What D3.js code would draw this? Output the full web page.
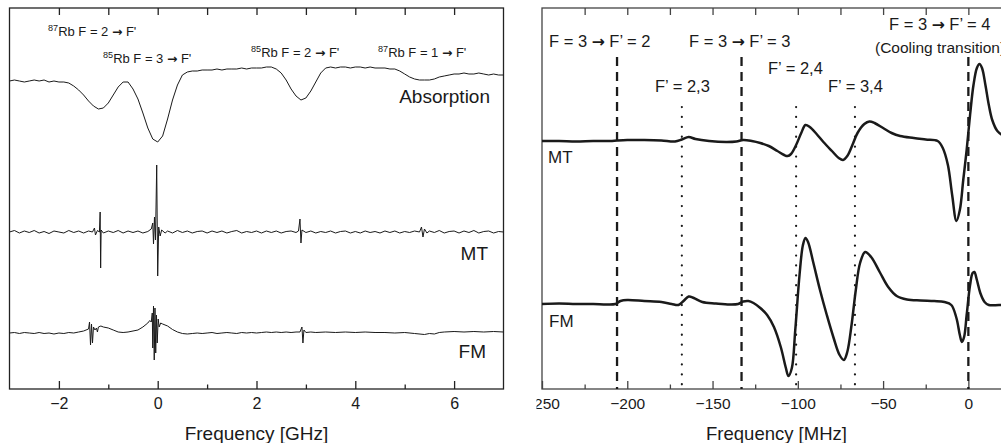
<!DOCTYPE html>
<html>
<head>
<meta charset="utf-8">
<script src="https://cdn.jsdelivr.net/npm/d3@7"></script>
<style>
body { margin: 0; background: #fff; }
svg { display: block; font-family: "Liberation Sans", Arial, sans-serif; }
</style>
</head>
<body>
<div class="chartDiv"></div>
<script>
"use strict"

//
/* Data: wide scan (GHz), traces as [frequency, signal relative to trace baseline] */
//
var wideMajorTicks = [-2, 0, 2, 4, 6];
var wideMinorTicks = [-1, 1, 3, 5];
var wideTopTicks = [-2, -1, 0, 1, 2, 3, 4, 5, 6];

var wideOffsets = { absorption: 308, mt: 157, fm: 56 };

var absorptionWide = [
    [-3.0,0],[-2.9,1],[-2.8,0],[-2.7,-1],[-2.6,0],[-2.5,1],[-2.4,0],[-2.3,1],[-2.2,-1],[-2.1,0],
    [-2.0,-1],[-1.9,-1],[-1.8,-2],[-1.7,-5],[-1.6,-9],[-1.5,-14],[-1.4,-20],[-1.3,-25],[-1.2,-28],[-1.1,-27],
    [-1.0,-22],[-0.9,-14],[-0.8,-6],[-0.7,-1],[-0.6,-1],[-0.5,-8],[-0.4,-18],[-0.3,-32],[-0.2,-47],[-0.1,-58],
    [0.0,-61],[0.1,-55],[0.2,-38],[0.3,-19],[0.4,-4],[0.5,6],[0.6,9],[0.7,10],[0.8,10],[0.9,11],
    [1.0,11],[1.1,11],[1.2,12],[1.3,11],[1.4,12],[1.5,12],[1.6,12],[1.7,13],[1.8,12],[1.9,13],
    [2.0,13],[2.1,13],[2.2,14],[2.3,14],[2.4,12],[2.5,8],[2.6,1],[2.7,-8],[2.8,-15],[2.9,-19],
    [3.0,-17],[3.1,-10],[3.2,-1],[3.3,8],[3.4,13],[3.5,14],[3.6,13],[3.7,14],[3.8,14],[3.9,13],
    [4.0,14],[4.1,14],[4.2,13],[4.3,14],[4.4,13],[4.5,13],[4.6,13],[4.7,12],[4.8,12],[4.9,10],
    [5.0,7],[5.1,4],[5.2,2],[5.3,1],[5.4,1],[5.5,1],[5.6,2],[5.7,4],[5.8,5],[5.9,6],
    [6.0,7],[6.1,7],[6.2,8],[6.3,7],[6.4,7],[6.5,8],[6.6,7],[6.7,6],[6.8,7],[6.9,6],[7.0,6]
];

var mtWide = [
    [-3.0,0],[-2.9,1.5],[-2.8,-1],[-2.7,1],[-2.6,-0.5],[-2.5,1.5],[-2.4,-1],[-2.3,0.5],[-2.2,-1.5],[-2.1,1],
    [-2.0,0],[-1.9,-1],[-1.8,1.5],[-1.7,-0.5],[-1.6,1],[-1.5,-1],[-1.4,1],[-1.32,0],[-1.28,4],[-1.26,-3],
    [-1.22,1.5],[-1.18,0],[-1.165,20],[-1.155,-36],[-1.145,2],[-1.1,-1],[-1.0,1],[-0.9,-0.5],[-0.8,1.5],[-0.7,-1],
    [-0.6,1],[-0.5,-0.5],[-0.4,1],[-0.3,-1],[-0.2,0.5],[-0.13,3],[-0.1,9],[-0.085,-12],[-0.065,15],[-0.045,-8],
    [-0.02,67],[0.0,-44],[0.02,5],[0.05,-4],[0.08,2],[0.15,-1],[0.2,1],[0.3,-1],[0.4,1.5],[0.5,-0.5],
    [0.6,1],[0.7,-1],[0.8,0.5],[0.9,1],[1.0,-1],[1.1,1],[1.2,-0.5],[1.3,1],[1.4,-1],[1.5,0.5],
    [1.6,1.5],[1.7,-1],[1.8,0.5],[1.9,-0.5],[2.0,1],[2.1,-1],[2.2,1],[2.3,-0.5],[2.4,1],[2.5,-1],
    [2.6,0.5],[2.7,1],[2.8,-0.5],[2.85,1],[2.88,13],[2.9,-11],[2.92,2],[3.0,-0.5],[3.1,1],[3.2,-1],
    [3.3,0.5],[3.4,-0.5],[3.5,1],[3.6,-1],[3.7,0.5],[3.8,1],[3.9,-1],[4.0,0.5],[4.1,-1],[4.2,1],
    [4.3,-0.5],[4.4,0.5],[4.5,-1],[4.6,1],[4.7,-0.5],[4.8,1],[4.9,-1],[5.0,0.5],[5.1,-0.5],[5.2,1],
    [5.3,0],[5.34,5],[5.37,-5],[5.4,3],[5.45,-1],[5.5,1],[5.6,-0.5],[5.7,1.5],[5.8,-1],[5.9,0.5],
    [6.0,1],[6.1,-1],[6.2,1],[6.3,-0.5],[6.4,1.5],[6.5,-1],[6.6,0.5],[6.7,1],[6.8,-1],[6.9,0.5],[7.0,0]
];

var fmWide = [
    [-3.0,0],[-2.9,0.5],[-2.8,-0.5],[-2.7,0.5],[-2.6,0],[-2.5,-0.5],[-2.4,0.5],[-2.3,-0.5],[-2.2,0],[-2.1,-1],
    [-2.0,0],[-1.9,-0.5],[-1.8,0.5],[-1.7,0],[-1.6,1],[-1.5,2],[-1.45,3],[-1.4,4],[-1.38,11],[-1.36,-12],
    [-1.34,9],[-1.32,-10],[-1.3,6],[-1.27,3],[-1.24,5],[-1.22,1],[-1.2,6],[-1.15,7],[-1.1,6],[-1.0,5],
    [-0.9,3],[-0.8,1],[-0.7,0.5],[-0.6,1],[-0.5,2],[-0.4,3],[-0.3,6],[-0.2,10],[-0.16,12.5],[-0.13,11],
    [-0.11,20],[-0.1,-15],[-0.085,27],[-0.07,-27],[-0.055,25],[-0.04,-20],[-0.025,18],[-0.01,-10],[0.01,14],[0.03,6],
    [0.06,10],[0.1,9],[0.2,7],[0.3,3.5],[0.4,1],[0.5,-0.5],[0.6,-1],[0.7,-0.5],[0.8,0],[0.9,-0.5],
    [1.0,0],[1.1,0.5],[1.2,-0.5],[1.3,0],[1.4,0.5],[1.5,0],[1.6,-0.5],[1.7,0.5],[1.8,0],[1.9,0.5],
    [2.0,0],[2.1,0.5],[2.2,1],[2.3,0.5],[2.4,1],[2.5,0.5],[2.6,1],[2.7,0.5],[2.8,1],[2.88,1],
    [2.92,6],[2.94,-10],[2.96,3],[3.0,0.5],[3.1,1],[3.2,0.5],[3.4,1],[3.6,0.5],[3.8,1],[4.0,0.5],
    [4.2,1],[4.4,0.5],[4.6,0.5],[4.8,0],[5.0,0.5],[5.2,-0.5],[5.4,-1.5],[5.5,-0.5],[5.6,-1],[5.7,0.5],
    [5.8,1],[6.0,1.5],[6.2,1],[6.4,1.5],[6.6,1],[6.8,1.5],[7.0,1]
];

//
/* Data: zoomed scan (MHz) */
//
var zoomMajorTicks = [-250, -200, -150, -100, -50, 0];
var zoomMinorTicks = [-225, -175, -125, -75, -25, 25];
var zoomTopTicks = [-225, -200, -175, -150, -125, -100, -75, -50, -25, 0, 25];

var zoomOffsets = { mt: 248, fm: 85 };

var dashedTransitions = [-206, -133, 0];
var dottedCrossovers = [-168, -101, -66.5];

var mtZoom = [
    [-250,0],[-240,0],[-230,-0.5],[-220,0],[-210,0],[-206,0.5],[-200,1],[-190,1],[-180,0.5],[-172,-0.5],
    [-168,1.5],[-164,4],[-160,2],[-152,0],[-142,-1],[-136,-0.5],[-132,1],[-127,0],[-122,-2],[-117,-5],
    [-112,-10],[-108,-14],[-106,-15],[-104,-13],[-101,-4],[-98,8],[-95.5,16],[-93,14],[-89,7],[-85,-1],
    [-80,-10],[-76,-17],[-73.5,-19],[-71,-15],[-68,-4],[-65,8],[-61,17],[-58,19.5],[-55,18],[-50,13],
    [-45,8],[-40,5],[-32,3],[-25,1.5],[-18,0],[-15,-7],[-12,-24],[-9.5,-54],[-7,-80],[-5,-69],
    [-3,-39],[-1,-9],[1,26],[3,56],[5,73],[6.5,77],[8,73],[10,56],[12,36],[14,21],[17,10],[21,5],[25,3]
];

var fmZoom = [
    [-250,0],[-240,0.5],[-230,0],[-220,0],[-212,-0.5],[-207,0],[-204,3],[-200,4],[-190,3],[-180,2],
    [-174,0],[-170,-1],[-167,3],[-164,7.5],[-161,6],[-156,2],[-148,0.5],[-140,-0.5],[-135,0],[-132,2.5],
    [-129,3],[-126,1],[-122,-4],[-118,-11],[-114,-23],[-110,-43],[-107,-64],[-105.5,-72],[-103.5,-64],[-101.5,-26],
    [-99,29],[-97,59],[-95.5,66],[-94,62],[-91,42],[-87,14],[-83,-11],[-79,-34],[-75.5,-51],[-73,-56],
    [-71,-48],[-68.5,-21],[-66,14],[-63.5,41],[-60.5,52],[-57,47],[-52,32],[-47,17],[-42,8],[-36,4.5],
    [-28,3.5],[-20,3],[-14,2],[-10,-1],[-7,-14],[-5,-31],[-3.8,-38],[-2.5,-33],[-1,-11],[1,19],
    [2.5,31],[3.5,32],[5,24],[7,11],[9.5,2],[12,-1],[18,-1],[25,-1]
];

//
/* Layout */
//
var width = 1001;
var height = 443;
var panelTop = 8;
var panelBottom = 389;
var inkColor = "#1a1a1a";
var arrowFont = "DejaVu Sans, sans-serif";

var svgContainer = d3.select(".chartDiv").append("svg")
                        .attr("width", width)
                        .attr("height", height)
                        .attr("viewBox", "0 0 " + width + " " + height);

var yScale = d3.scaleLinear().domain([0, 381]).range([panelBottom, panelTop]);

function drawFrame(g, x, majorTicks, minorTicks, topTicks, tickFontSize, frameColor)
{
    g.append("rect")
        .attr("x", x.range()[0])
        .attr("y", panelTop)
        .attr("width", x.range()[1] - x.range()[0])
        .attr("height", panelBottom - panelTop)
        .attr("fill", "none")
        .attr("stroke", frameColor)
        .attr("stroke-width", 1.3);

    var major = g.append("g")
        .attr("transform", "translate(0," + panelBottom + ")")
        .call(d3.axisBottom(x).tickValues(majorTicks).tickSize(-8).tickPadding(9));
    var minor = g.append("g")
        .attr("transform", "translate(0," + panelBottom + ")")
        .call(d3.axisBottom(x).tickValues(minorTicks).tickSize(-4.5).tickFormat(""));
    var top = g.append("g")
        .attr("transform", "translate(0," + panelTop + ")")
        .call(d3.axisTop(x).tickValues(topTicks).tickSize(-7).tickFormat(""));

    [major, minor, top].forEach(function(a)
    {
        a.select(".domain").remove();
        a.selectAll(".tick line").attr("stroke", frameColor).attr("stroke-width", 1.3);
    });
    major.selectAll(".tick text")
        .attr("font-family", "Liberation Sans, Arial, sans-serif")
        .attr("font-size", tickFontSize)
        .attr("fill", inkColor);
}

function drawTrace(g, x, data, offset, curve, strokeWidth)
{
    var line = d3.line()
        .x(function(d) { return x(d[0]) })
        .y(function(d) { return yScale(offset + d[1]) })
        .curve(curve);

    g.append("path")
        .datum(data)
        .attr("d", line)
        .attr("fill", "none")
        .attr("stroke", inkColor)
        .attr("stroke-width", strokeWidth)
        .attr("stroke-linejoin", "round");
}

// text with an optional superscript, and the arrow drawn in a heavier glyph
function transitionLabel(g, x, y, size, sup, before, after)
{
    var t = g.append("text")
        .attr("x", x)
        .attr("y", y)
        .attr("fill", inkColor)
        .attr("font-size", size);
    var lift = 0;
    if (sup)
    {
        lift = Math.round(size * 0.38);
        t.append("tspan").text(sup).attr("font-size", size * 0.7).attr("dy", -lift);
    }
    t.append("tspan").text(before).attr("dy", lift);
    t.append("tspan").text("\u2192").attr("font-family", arrowFont).attr("font-weight", "bold").attr("font-size", size * 0.95);
    t.append("tspan").text(after);
}

function plainLabel(g, x, y, text, size, anchor)
{
    g.append("text")
        .attr("x", x)
        .attr("y", y)
        .attr("fill", inkColor)
        .attr("font-size", size)
        .attr("text-anchor", anchor || "start")
        .text(text);
}

//
/* Left panel: wide scan */
//
var wideGroup = svgContainer.append("g").attr("class", "wideScan");
var xWide = d3.scaleLinear().domain([-3, 7]).range([9.5, 503.5]);

drawFrame(wideGroup, xWide, wideMajorTicks, wideMinorTicks, wideTopTicks, 16, "#222");
drawTrace(wideGroup, xWide, absorptionWide, wideOffsets.absorption, d3.curveLinear, 1);
drawTrace(wideGroup, xWide, mtWide, wideOffsets.mt, d3.curveLinear, 1);
drawTrace(wideGroup, xWide, fmWide, wideOffsets.fm, d3.curveLinear, 1);

transitionLabel(wideGroup, 48, 36, 13, "87", "Rb F = 2 ", " F'");
transitionLabel(wideGroup, 103, 63, 13, "85", "Rb F = 3 ", " F'");
transitionLabel(wideGroup, 251, 57, 13, "85", "Rb F = 2 ", " F'");
transitionLabel(wideGroup, 378, 57, 13, "87", "Rb F = 1 ", " F'");

plainLabel(wideGroup, 490, 103, "Absorption", 19, "end");
plainLabel(wideGroup, 488, 260, "MT", 19, "end");
plainLabel(wideGroup, 486, 358, "FM", 19, "end");
plainLabel(wideGroup, (xWide.range()[0] + xWide.range()[1]) / 2, 440, "Frequency [GHz]", 19, "middle");

//
/* Right panel: zoom on the 85Rb F = 3 transitions */
//
svgContainer.append("defs").append("clipPath")
    .attr("id", "zoomClip")
    .append("rect")
    .attr("x", 536.5).attr("y", 0).attr("width", 480).attr("height", height);

var zoomGroup = svgContainer.append("g").attr("class", "zoomScan").attr("clip-path", "url(#zoomClip)");
var xZoom = d3.scaleLinear().domain([-250, 25]).range([542, 1011]);

drawFrame(zoomGroup, xZoom, zoomMajorTicks, zoomMinorTicks, zoomTopTicks, 15.5, "#444");

zoomGroup.selectAll(".transitionLine")
    .data(dashedTransitions)
    .enter()
    .append("line")
    .attr("class", "transitionLine")
    .attr("x1", function(d) { return xZoom(d) })
    .attr("x2", function(d) { return xZoom(d) })
    .attr("y1", 57)
    .attr("y2", panelBottom)
    .attr("stroke", inkColor)
    .attr("stroke-width", 2.3)
    .attr("stroke-dasharray", "9,6");

zoomGroup.selectAll(".crossoverLine")
    .data(dottedCrossovers)
    .enter()
    .append("line")
    .attr("class", "crossoverLine")
    .attr("x1", function(d) { return xZoom(d) })
    .attr("x2", function(d) { return xZoom(d) })
    .attr("y1", 107)
    .attr("y2", 385)
    .attr("stroke", inkColor)
    .attr("stroke-width", 2.2)
    .attr("stroke-linecap", "round")
    .attr("stroke-dasharray", "0.1,9.8");

drawTrace(zoomGroup, xZoom, mtZoom, zoomOffsets.mt, d3.curveCatmullRom.alpha(0.5), 2.5);
drawTrace(zoomGroup, xZoom, fmZoom, zoomOffsets.fm, d3.curveCatmullRom.alpha(0.5), 2.5);

transitionLabel(zoomGroup, 549, 47, 16.5, null, "F = 3 ", " F\u2019 = 2");
transitionLabel(zoomGroup, 689, 47, 16.5, null, "F = 3 ", " F\u2019 = 3");
plainLabel(zoomGroup, 655, 92, "F\u2019 = 2,3", 16.5);
plainLabel(zoomGroup, 768, 74, "F\u2019 = 2,4", 16.5);
plainLabel(zoomGroup, 828, 92, "F\u2019 = 3,4", 16.5);
transitionLabel(zoomGroup, 889, 30, 16.5, null, "F = 3 ", " F\u2019 = 4");
plainLabel(zoomGroup, 875, 53, "(Cooling transition)", 15.5);
plainLabel(zoomGroup, 548, 163, "MT", 17);
plainLabel(zoomGroup, 549, 327, "FM", 17);
plainLabel(zoomGroup, (xZoom.range()[0] + xZoom.range()[1]) / 2, 440, "Frequency [MHz]", 18.5, "middle");
</script>
</body>
</html>
